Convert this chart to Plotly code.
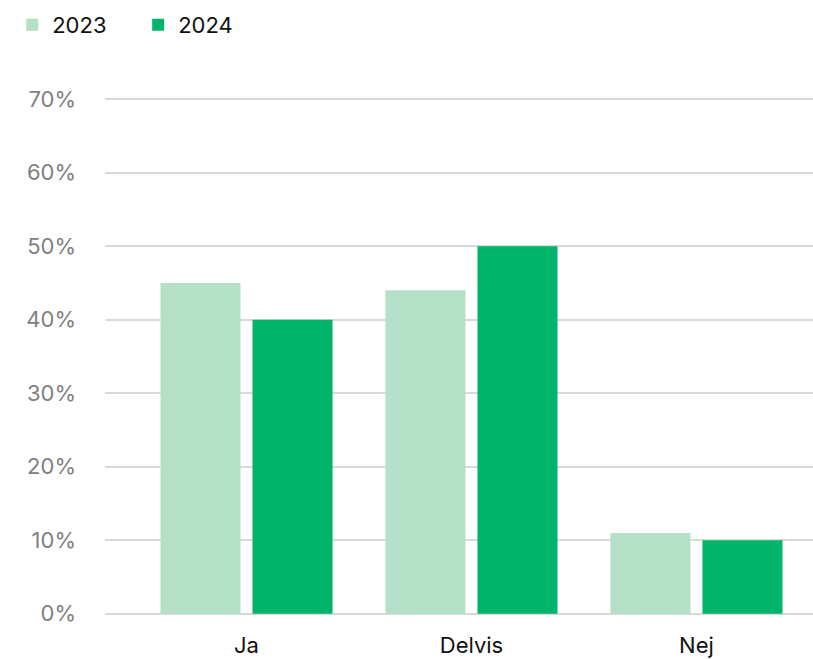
import plotly.graph_objects as go

categories = ["Ja", "Delvis", "Nej"]
series_names = ["2023", "2024"]
values_2023 = [45, 44, 11]
values_2024 = [40, 50, 10]
y_ticks = [0, 10, 20, 30, 40, 50, 60, 70]
y_tick_labels = ["0%", "10%", "20%", "30%", "40%", "50%", "60%", "70%"]

colors = ["#B4E0C8", "#00B46A"]
FONT = "Inter, Roboto, sans-serif"

fig = go.Figure()
for name, vals, col in zip(series_names, [values_2023, values_2024], colors):
    fig.add_trace(go.Bar(x=categories, y=vals, name=name, marker_color=col,
                         marker_line_width=0))

fig.update_layout(
    width=813, height=659,
    margin=dict(l=105, r=0, t=97, b=43),
    paper_bgcolor="white", plot_bgcolor="white",
    barmode="group", bargap=0.182, bargroupgap=0.13,
    font=dict(family=FONT, size=22, color="#111111"),
    legend=dict(orientation="h", xref="container", yref="container",
                x=0.015, y=0.994, xanchor="left", yanchor="top",
                font=dict(size=22, color="#111111"), itemwidth=30,
                entrywidth=81, entrywidthmode="pixels",
                traceorder="normal"),
    showlegend=True,
)
fig.update_xaxes(type="category", range=[-0.629, 2.518], showgrid=False,
                 showline=False, zeroline=False, ticks="", automargin=False,
                 tickfont=dict(size=22, color="#111111"), ticklabelstandoff=14)
fig.update_yaxes(range=[-0.3, 70.3], tickvals=y_ticks, ticktext=y_tick_labels,
                 showgrid=True, gridcolor="#D9D9D9", gridwidth=2,
                 zeroline=False, showline=False, ticks="", automargin=False,
                 tickfont=dict(size=22, color="#808080"), ticklabelstandoff=28)

fig.write_html("out.html", config={"displayModeBar": False},
               post_script="document.body.style.margin='0';document.body.style.padding='0';")
